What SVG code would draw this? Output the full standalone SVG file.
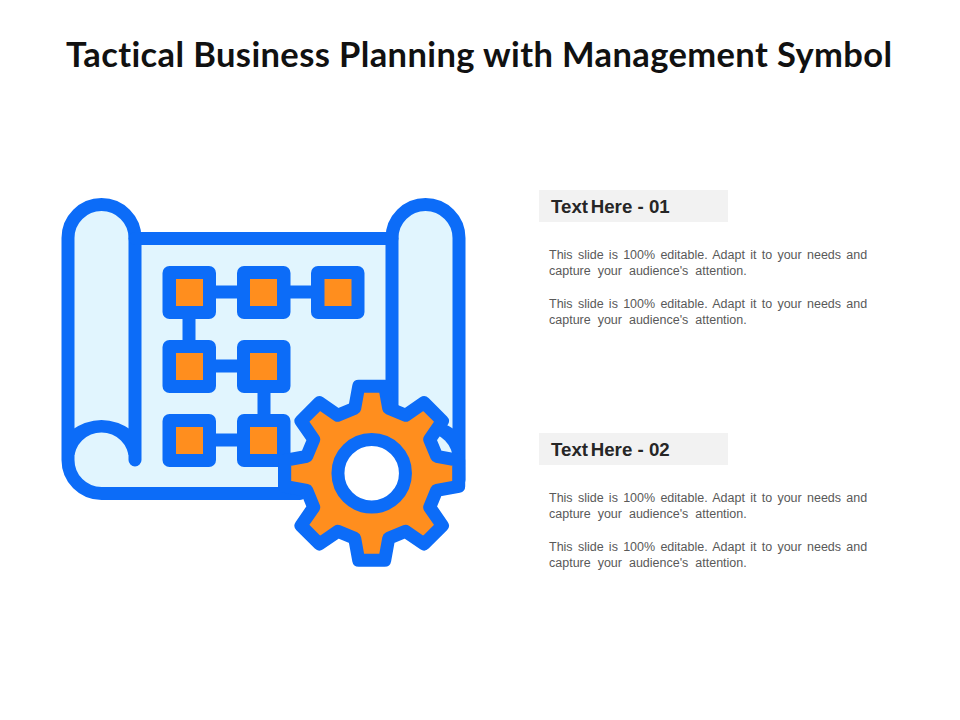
<svg xmlns="http://www.w3.org/2000/svg" width="960" height="720" viewBox="0 0 960 720">
<defs><style>
.ln{fill:none;stroke:#0C6CF8;stroke-width:13;stroke-linecap:round;stroke-linejoin:round}
.lf{fill:#E1F5FE}
.sq{fill:#0C6CF8}
.or{fill:#FF8E1E}
.h{font:bold 18.7px "Liberation Sans",Arial,sans-serif;fill:#262626}
.b{font:12.5px "Liberation Sans",Arial,sans-serif;fill:#595959}
.l1{word-spacing:1.8px}
.l2{word-spacing:3.5px}
.hb{fill:#F2F2F2}
</style></defs>
<rect width="960" height="720" fill="#fff"/>
<text id="title" x="66" y="67" font-family="Lato,sans-serif" font-weight="700" font-size="34.5" fill="#111" textLength="826" style="font-variant-ligatures:none">Tactical Business Planning with Management Symbol</text>
<g id="scroll">
<path class="lf" d="M135,238H392V470H278V493.5H101.5A33.5,33.5 0 0 1 68,460V238A33.5,33.5 0 0 1 135,238Z"/>
<path class="lf" d="M392,238A33.5,33.5 0 0 1 459,238V470H392Z"/>
<path class="sq" d="M70,431Q101.500,409 133,431V455H70Z"/>
<path class="sq" d="M394,431Q425.500,409 457,431V455H394Z"/>
<path class="lf" d="M74,460A27.500,27.500 0 0 1 129,460V487H101.500A27.500,27.500 0 0 1 74,460Z"/>
<path class="lf" d="M398,460A27.500,27.500 0 0 1 453,460V487H398Z"/>
<path class="ln" d="M135,460V238A33.500,33.500 0 0 0 68,238V460A33.500,33.500 0 0 0 101.500,493.500H300"/>
<path class="ln" d="M135,238.500H392"/>
<path class="ln" d="M392,430V238A33.500,33.500 0 0 1 459,238V480"/>
<rect class="sq" x="278" y="455" width="14" height="45"/>
</g>
<g id="connectors">
<path class="ln" d="M216,292H237M290,292H311M189,319V340M216,366H237M264,393V414M216,440H237"/>
</g>
<g id="n1"><rect class="sq" x="162.500" y="266" width="53.500" height="53" rx="7"/><rect class="or" x="176" y="279" width="27" height="27"/></g>
<g id="n2"><rect class="sq" x="237" y="266" width="53.500" height="53" rx="7"/><rect class="or" x="250" y="279" width="27" height="27"/></g>
<g id="n3"><rect class="sq" x="311" y="266" width="53.500" height="53" rx="7"/><rect class="or" x="324.500" y="279" width="27" height="27"/></g>
<g id="n4"><rect class="sq" x="162.500" y="340" width="53.500" height="53" rx="7"/><rect class="or" x="176" y="353" width="27" height="27"/></g>
<g id="n5"><rect class="sq" x="237" y="340" width="53.500" height="53" rx="7"/><rect class="or" x="250" y="353" width="27" height="27"/></g>
<g id="n6"><rect class="sq" x="162.500" y="414" width="53.500" height="53" rx="7"/><rect class="or" x="176" y="427" width="27" height="27"/></g>
<g id="n7"><rect class="sq" x="237" y="414" width="53.500" height="53" rx="7"/><rect class="or" x="250" y="427" width="27" height="27"/></g>
<g id="gear" transform="translate(371.7,473.3)">
<path class="or" stroke="#0C6CF8" stroke-width="13" stroke-linejoin="round" d="M-17,-65L-13,-87H13L17,-65L33.900,-58L52.300,-70.700L70.700,-52.300L58,-33.900L65,-17L87,-13V13L65,17L58,33.900L70.700,52.300L52.300,70.700L33.900,58L17,65L13,87H-13L-17,65L-33.900,58L-52.300,70.700L-70.700,52.300L-58,33.900L-65,17L-87,13V-13L-65,-17L-58,-33.900L-70.700,-52.300L-52.300,-70.700L-33.900,-58Z"/>
<circle r="33.750" fill="#fff" stroke="#0C6CF8" stroke-width="13"/>
</g>
<g id="t1">
<rect class="hb" x="539" y="190" width="189" height="32"/>
<text class="h" x="551" y="213">Text <tspan dx="-2.500">Here - 01</tspan></text>
<text class="b l1" x="549" y="259">This slide is 100% editable. Adapt it to your needs and</text>
<text class="b l2" x="549" y="275">capture your audience's attention.</text>
<text class="b l1" x="549" y="308">This slide is 100% editable. Adapt it to your needs and</text>
<text class="b l2" x="549" y="324">capture your audience's attention.</text>
</g>
<g id="t2">
<rect class="hb" x="539" y="433" width="189" height="32"/>
<text class="h" x="551" y="456">Text <tspan dx="-2.500">Here - 02</tspan></text>
<text class="b l1" x="549" y="502">This slide is 100% editable. Adapt it to your needs and</text>
<text class="b l2" x="549" y="518">capture your audience's attention.</text>
<text class="b l1" x="549" y="551">This slide is 100% editable. Adapt it to your needs and</text>
<text class="b l2" x="549" y="567">capture your audience's attention.</text>
</g>
</svg>
